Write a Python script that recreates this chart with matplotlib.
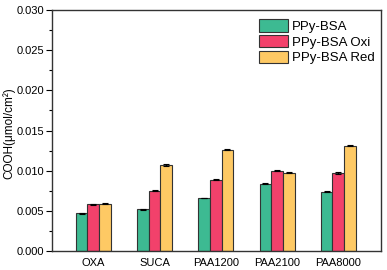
import numpy as np
import matplotlib
matplotlib.use('Agg')
import matplotlib.pyplot as plt
from matplotlib.ticker import MultipleLocator

plt.rcParams['font.family'] = ['Liberation Sans', 'DejaVu Sans']

categories = ['OXA', 'SUCA', 'PAA1200', 'PAA2100', 'PAA8000']
series_names = ['PPy-BSA', 'PPy-BSA Oxi', 'PPy-BSA Red']
bsa = [0.0047, 0.0052, 0.0066, 0.0084, 0.0074]
bsa_oxi = [0.0058, 0.0075, 0.0089, 0.0100, 0.0097]
bsa_red = [0.0059, 0.0107, 0.0126, 0.00975, 0.0131]
errs = [[0.00005] * 5, [0.00008] * 5, [0.00008] * 5]
colors = ['#3dba92', '#f2416b', '#fec964']

fig, ax = plt.subplots(figsize=(3.87, 2.70), dpi=100)
fig.subplots_adjust(left=0.135, right=0.985, top=0.963, bottom=0.07)

x = np.arange(1, len(categories) + 1)
w = 0.19
for i, (vals, name) in enumerate(zip([bsa, bsa_oxi, bsa_red], series_names)):
    ax.bar(x + (i - 1) * w, vals, w, color=colors[i], edgecolor='#333333',
           linewidth=0.8, label=name, yerr=errs[i], capsize=2,
           error_kw=dict(elinewidth=0.8, capthick=0.8, ecolor='black'))

ax.set_xlim(0.33, 5.7)
ax.set_ylim(0, 0.030)
ax.set_xticks(x)
ax.set_xticklabels(categories, fontsize=8)
ax.yaxis.set_major_locator(MultipleLocator(0.005))
ax.yaxis.set_minor_locator(MultipleLocator(0.0025))
ax.yaxis.set_major_formatter(matplotlib.ticker.FormatStrFormatter('%.3f'))
ax.tick_params(axis='y', labelsize=8, length=4, width=0.8, direction='out', pad=2)
ax.tick_params(axis='y', which='minor', length=2, width=0.8)
ax.tick_params(axis='x', length=0, pad=5)
ax.set_ylabel('COOH(μmol/cm²)', fontsize=8.5)
ax.yaxis.set_label_coords(-0.112, 0.49)
for s in ax.spines.values():
    s.set_linewidth(1.0)
    s.set_color('#333333')

ax.legend(loc='upper right', frameon=False, fontsize=9.5, handlelength=2.2,
          handleheight=1.1, handletextpad=0.3, labelspacing=0.15,
          borderaxespad=0.1, bbox_to_anchor=(1.0, 0.99))

plt.savefig('out.png', dpi=100)
